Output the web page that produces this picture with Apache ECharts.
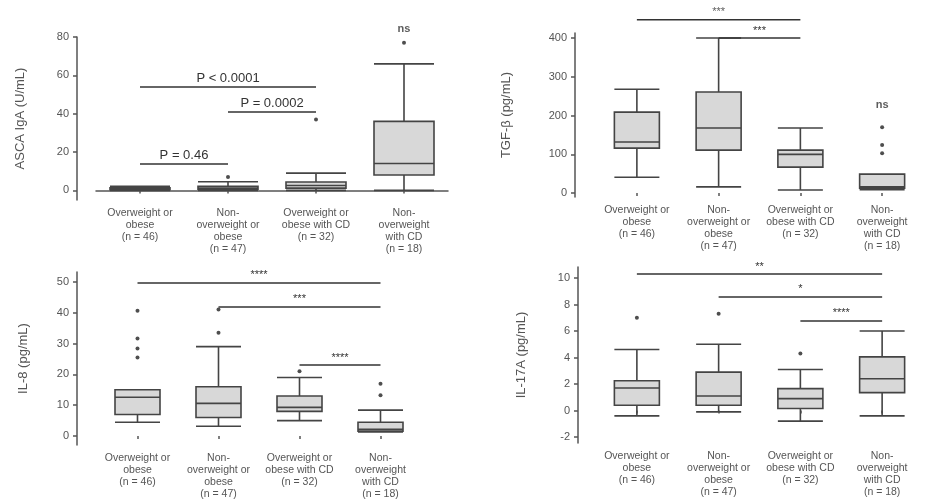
<!DOCTYPE html>
<html>
<head>
<meta charset="utf-8">
<script src="https://cdn.jsdelivr.net/npm/echarts@6/dist/echarts.min.js"></script>
<style>html,body{margin:0;padding:0;background:#fff;}#c{width:925px;height:500px;}</style>
</head>
<body>
<div id="c"></div>
<script>
// ---- data ----
const categories = ['Overweight or\nobese\n(n = 46)', 'Non-\noverweight or\nobese\n(n = 47)', 'Overweight or\nobese with CD\n(n = 32)', 'Non-\noverweight\nwith CD\n(n = 18)'];

// panel 1
const yName1 = 'ASCA IgA (U/mL)';
const yTicks1 = [0, 20, 40, 60, 80];
const box1 = [[0, 0.4, 0.8, 1.3, 2.2], [0, 0.6, 1.2, 2.2, 4.5], [0, 1.2, 2.6, 4.4, 9], [0, 8, 14, 36, 66]];
const out1 = [[1, 7], [2, 37], [3, 77]];
const sig1 = [{from: 0, to: 2, y: 54, text: 'P < 0.0001'}, {from: 1, to: 2, y: 41, text: 'P = 0.0002'}, {from: 0, to: 1, y: 14, text: 'P = 0.46'}];
const ns1 = [[3, 84]];

// panel 2
const yName2 = 'TGF-β (pg/mL)';
const yTicks2 = [0, 100, 200, 300, 400];
const box2 = [[41, 116, 132, 209, 268], [16, 111, 168, 261, 400], [8, 67, 100, 111, 168], [9, 13, 16, 49, 49]];
const out2 = [[3, 103], [3, 124], [3, 170]];
const sig2 = [{from: 0, to: 2, y: 447, text: '***'}, {from: 1, to: 2, y: 400, text: '***'}];
const ns2 = [[3, 227]];

// panel 3
const yName3 = 'IL-8 (pg/mL)';
const yTicks3 = [0, 10, 20, 30, 40, 50];
const box3 = [[4.5, 7, 12.6, 15, 15], [3.2, 6, 10.6, 16, 29], [5, 8, 9.3, 13, 19], [1.3, 1.6, 2.2, 4.5, 8.4]];
const out3 = [[0, 40.6], [0, 31.6], [0, 28.4], [0, 25.5], [1, 33.5], [1, 41], [2, 21], [3, 13.2], [3, 17]];
const sig3 = [{from: 0, to: 3, y: 49.7, text: '****'}, {from: 1, to: 3, y: 42, text: '***'}, {from: 2, to: 3, y: 23, text: '****'}];

// panel 4
const yName4 = 'IL-17A (pg/mL)';
const yTicks4 = [-2, 0, 2, 4, 6, 8, 10];
const box4 = [[-0.4, 0.4, 1.7, 2.25, 4.6], [-0.1, 0.4, 1.1, 2.9, 5.0], [-0.8, 0.15, 0.9, 1.65, 3.1], [-0.4, 1.35, 2.4, 4.05, 6.0]];
const out4 = [[0, 7.0], [1, 7.3], [2, 4.3]];
const sig4 = [{from: 0, to: 3, y: 10.3, text: '**'}, {from: 1, to: 3, y: 8.57, text: '*'}, {from: 2, to: 3, y: 6.8, text: '****'}];

// ---- chart ----
const FONT = 'Arial, "Liberation Sans", sans-serif';
const grids = [
  {left: 96, top: 37, width: 352, height: 163},
  {left: 596, top: 33, width: 327, height: 164},
  {left: 97, top: 272, width: 324, height: 174},
  {left: 596, top: 267, width: 327, height: 176}
];
const yCfg = [
  {min: -5, max: 80, offset: 19, ticks: yTicks1, name: yName1, gap: 50},
  {min: -10, max: 413, offset: 21, ticks: yTicks2, name: yName2, gap: 62},
  {min: -2.9, max: 53.2, offset: 20, ticks: yTicks3, name: yName3, gap: 47},
  {min: -2.45, max: 10.83, offset: 18, ticks: yTicks4, name: yName4, gap: 50}
];
const boxes = [box1, box2, box3, box4];
const outs = [out1, out2, out3, out4];
const sigs = [sig1, sig2, sig3, sig4];
const nss = [ns1, ns2, [], []];

const xAxes = grids.map((g, i) => ({
  type: 'category', gridIndex: i, data: categories,
  axisLine: {show: i === 0, lineStyle: {color: '#555', width: 1.5}},
  axisTick: {show: true, alignWithLabel: true, length: 3, lineStyle: {color: '#555', width: 1.5}},
  axisLabel: {interval: 0, fontSize: 10.5, lineHeight: 12, color: '#555', margin: 7, fontFamily: FONT},
  splitLine: {show: false}
}));
const yAxes = yCfg.map((c, i) => ({
  type: 'value', gridIndex: i, min: c.min, max: c.max, offset: c.offset,
  name: c.name, nameLocation: 'middle', nameGap: c.gap,
  nameTextStyle: {fontSize: 13, color: '#555', fontFamily: FONT},
  axisLine: {show: true, lineStyle: {color: '#555', width: 1.5}},
  axisTick: {show: true, length: 4, customValues: c.ticks, lineStyle: {color: '#555', width: 1.5}},
  axisLabel: {customValues: c.ticks, fontSize: 11, color: '#555', margin: 8, fontFamily: FONT},
  splitLine: {show: false}
}));

const LINE = {color: '#333', width: 1.6, type: 'solid'};
const series = [];
boxes.forEach((b, i) => {
  const cfg = yCfg[i];
  const inside = sigs[i].filter(s => s.y <= cfg.max);
  const outside = sigs[i].filter(s => s.y > cfg.max);
  const labelFont = i === 0 ? 13 : 11;
  series.push({
    type: 'boxplot', xAxisIndex: i, yAxisIndex: i, data: b,
    boxWidth: [i === 0 ? 60 : 45, i === 0 ? 60 : 45],
    itemStyle: {color: '#d8d8d8', borderColor: '#444', borderWidth: 1.6},
    markLine: {
      silent: true, symbol: ['none', 'none'], animation: false,
      lineStyle: LINE,
      label: {show: true, position: 'insideMiddleTop', distance: 2, fontSize: labelFont, color: '#333', fontFamily: FONT},
      data: inside.map(s => [{coord: [s.from, s.y], label: {formatter: s.text}}, {coord: [s.to, s.y]}])
    }
  });
  outside.forEach(s => {
    series.push({
      type: 'line', xAxisIndex: i, yAxisIndex: i, clip: false, silent: true,
      data: [[s.from, s.y], [s.to, s.y]], showSymbol: false, symbol: 'none',
      lineStyle: LINE
    });
  });
  // text annotations (ns labels and labels of brackets above the axis range)
  const notes = nss[i].map(p => ({value: p, name: 'ns', label: {fontWeight: 'bold', position: 'inside'}}))
    .concat(outside.map(s => ({value: [Math.round((s.from + s.to) / 2), s.y], name: s.text,
      label: {position: 'top', distance: 2}})));
  if (notes.length) {
    series.push({
      type: 'scatter', xAxisIndex: i, yAxisIndex: i, clip: false, silent: true,
      symbolSize: 0, itemStyle: {color: 'rgba(0,0,0,0)'},
      label: {show: true, formatter: '{b}', fontSize: 11, color: '#333', fontFamily: FONT},
      data: notes
    });
  }
  series.push({
    type: 'scatter', xAxisIndex: i, yAxisIndex: i, data: outs[i],
    symbolSize: 4, itemStyle: {color: '#222'}
  });
});

const chart = echarts.init(document.getElementById('c'), null, {renderer: 'canvas'});
chart.setOption({
  animation: false,
  backgroundColor: '#fff',
  textStyle: {fontFamily: FONT},
  grid: grids,
  xAxis: xAxes,
  yAxis: yAxes,
  series: series
});
</script>
</body>
</html>
